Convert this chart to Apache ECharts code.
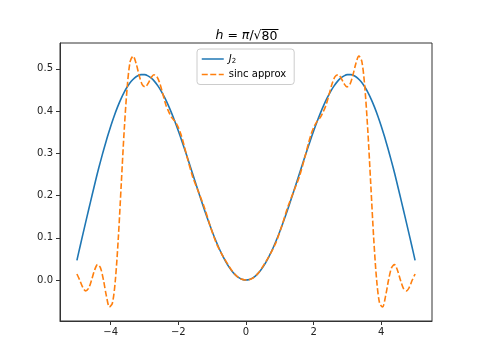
<!DOCTYPE html>
<html><head><meta charset="utf-8">
<script src="https://cdn.jsdelivr.net/npm/echarts@6/dist/echarts.min.js"></script>
<style>html,body{margin:0;padding:0;background:#fff}#c{width:480px;height:360px}</style>
</head><body><div id="c"></div>
<script>
// J2 curve samples
const jx = [-5.0,-4.9,-4.8,-4.7,-4.6,-4.5,-4.4,-4.3,-4.2,-4.1,-4.0,-3.9,-3.8,-3.7,-3.6,-3.5,-3.4,-3.3,-3.2,-3.1,-3.0,-2.9,-2.8,-2.7,-2.6,-2.5,-2.4,-2.3,-2.2,-2.1,-2.0,-1.9,-1.8,-1.7,-1.6,-1.5,-1.4,-1.3,-1.2,-1.1,-1.0,-0.9,-0.8,-0.7,-0.6,-0.5,-0.4,-0.3,-0.2,-0.1,0,
0.1,0.2,0.3,0.4,0.5,0.6,0.7,0.8,0.9,1.0,1.1,1.2,1.3,1.4,1.5,1.6,1.7,1.8,1.9,2.0,2.1,2.2,2.3,2.4,2.5,2.6,2.7,2.8,2.9,3.0,3.1,3.2,3.3,3.4,3.5,3.6,3.7,3.8,3.9,4.0,4.1,4.2,4.3,4.4,4.5,4.6,4.7,4.8,4.9,5.0];
const jy = [0.0466,0.0817,0.1163,0.1505,0.1844,0.2178,0.2509,0.2815,0.3107,0.3383,0.3641,0.3878,0.4093,0.4283,0.4448,0.4586,0.4698,0.4780,0.4835,0.4862,0.4861,0.4832,0.4777,0.4696,0.4590,0.4461,0.4310,0.4140,0.3951,0.3746,0.3528,0.3299,0.3061,0.2817,0.2570,0.2321,0.2074,0.1830,0.1593,0.1366,0.1149,0.0946,0.0758,0.0588,0.0437,0.0306,0.0197,0.0112,0.0050,0.0012,0,
0.0012,0.0050,0.0112,0.0197,0.0306,0.0437,0.0588,0.0758,0.0946,0.1149,0.1366,0.1593,0.1830,0.2074,0.2321,0.2570,0.2817,0.3061,0.3299,0.3528,0.3746,0.3951,0.4140,0.4310,0.4461,0.4590,0.4696,0.4777,0.4832,0.4861,0.4862,0.4835,0.4780,0.4698,0.4586,0.4448,0.4283,0.4093,0.3878,0.3641,0.3383,0.3107,0.2815,0.2509,0.2178,0.1844,0.1505,0.1163,0.0817,0.0466];

// sinc approximation samples
const sx = [-5.000,-4.917,-4.830,-4.742,-4.654,-4.566,-4.478,-4.390,-4.303,-4.215,-4.127,-4.039,-3.951,-3.863,-3.776,-3.688,-3.600,-3.512,-3.425,-3.337,-3.249,-3.161,-3.073,-2.985,-2.898,-2.810,-2.722,-2.634,-2.546,-2.459,-2.371,-2.283,-2.195,-2.107,-2.020,-1.932,-1.844,-1.756,-1.581,-1.405,-1.229,-1.054,-0.878,-0.702,-0.527,-0.351,-0.176,0,
0.176,0.351,0.527,0.702,0.878,1.054,1.229,1.405,1.581,1.756,1.844,1.932,2.020,2.107,2.195,2.283,2.371,2.459,2.546,2.634,2.722,2.810,2.898,2.985,3.073,3.161,3.249,3.337,3.425,3.512,3.600,3.688,3.776,3.863,3.951,4.039,4.127,4.215,4.303,4.390,4.478,4.566,4.654,4.742,4.830,4.917,5.000];
const sy = [0.0142,0,-0.0169,-0.0257,-0.0196,0,0.0233,0.0365,0.0288,0,-0.0380,-0.0636,-0.0550,0,0.0990,0.2282,0.3563,0.4573,0.5174,0.5299,0.5124,0.4850,0.4633,0.4571,0.4650,0.4783,0.4858,0.4813,0.4647,0.4401,0.4151,0.3980,0.3844,0.3761,0.3642,0.3465,0.3227,0.2954,0.2453,0.2086,0.1713,0.1266,0.0872,0.0592,0.0358,0.0153,0.0033,0,
0.0033,0.0153,0.0358,0.0592,0.0872,0.1266,0.1713,0.2086,0.2453,0.2954,0.3227,0.3465,0.3642,0.3761,0.3844,0.3980,0.4151,0.4401,0.4647,0.4813,0.4858,0.4783,0.4650,0.4571,0.4633,0.4850,0.5124,0.5299,0.5174,0.4573,0.3563,0.2282,0.0990,0,-0.0550,-0.0636,-0.0380,0,0.0288,0.0365,0.0233,0,-0.0196,-0.0257,-0.0169,0,0.0142];

const xTicks = [-4,-2,0,2,4];
const yTicks = [0.0,0.1,0.2,0.3,0.4,0.5];
const seriesNames = ['J2','sinc approx'];
const titleText = '{i|h} = {i|π}/√{o|80}';

const FF = 'DejaVu Sans';
const chart = echarts.init(document.getElementById('c'), null, {renderer:'canvas'});
const fmtMinus = v => String(v).replace('-', '\u2212');
const overbar = new echarts.graphic.LinearGradient(0,0,0,1,[
  {offset:0,color:'#000'},{offset:0.075,color:'#000'},
  {offset:0.076,color:'rgba(0,0,0,0)'},{offset:1,color:'rgba(0,0,0,0)'}]);
chart.setOption({
  animation:false,
  backgroundColor:'#fff',
  title:{
    text:titleText, left:242, top:24, textAlign:'center',
    textStyle:{fontFamily:FF,fontSize:12.5,fontWeight:'normal',color:'#000',
      rich:{i:{fontFamily:FF,fontSize:12.5,fontStyle:'italic',color:'#000'},
            o:{fontFamily:FF,fontSize:12.5,color:'#000',backgroundColor:overbar,padding:[1,1,0,0]}}}
  },
  legend:{
    left:197, top:49, orient:'vertical',
    padding:[5,8,5,4], itemGap:5, itemWidth:22, itemHeight:10,
    borderColor:'#ccc', borderWidth:1, borderRadius:3,
    backgroundColor:'rgba(255,255,255,0.8)',
    data:seriesNames,
    itemStyle:{opacity:0},
    lineStyle:{width:1.5},
    formatter: n => n==='J2' ? '{j|J}{s|2}' : n,
    textStyle:{fontFamily:FF,fontSize:10,color:'#000',
      rich:{j:{fontFamily:FF,fontSize:10,fontStyle:'italic',color:'#000'},
            s:{fontFamily:FF,fontSize:7,color:'#000',padding:[4,0,0,0]}}}
  },
  grid:{left:60,right:48,top:43,bottom:39,show:true,borderColor:'#333',borderWidth:1,backgroundColor:'transparent'},
  xAxis:{
    type:'value', min:-5.5, max:5.5,
    axisLine:{onZero:false,lineStyle:{color:'#333',width:1}},
    splitLine:{show:false},
    axisTick:{show:true,length:4,lineStyle:{color:'#333'},customValues:xTicks},
    axisLabel:{margin:6,fontFamily:FF,fontSize:10,color:'#222',customValues:xTicks,formatter:v=>fmtMinus(v)}
  },
  yAxis:{
    type:'value', min:-0.097, max:0.561,
    axisLine:{show:true,onZero:false,lineStyle:{color:'#333',width:1}},
    splitLine:{show:false},
    axisTick:{show:true,length:4,lineStyle:{color:'#333'},customValues:yTicks},
    axisLabel:{margin:7,fontFamily:FF,fontSize:10,color:'#222',customValues:yTicks,formatter:v=>v.toFixed(1)}
  },
  series:[
    {name:seriesNames[0], type:'line', data:jx.map((x,i)=>[x,jy[i]]), symbol:'none', smooth:0.3,
     lineStyle:{color:'#1f77b4',width:1.6}, itemStyle:{color:'#1f77b4'}, z:2},
    {name:seriesNames[1], type:'line', data:sx.map((x,i)=>[x,sy[i]]), symbol:'none', smooth:0.3,
     lineStyle:{color:'#ff7f0e',width:1.6,type:[6,2.5]}, itemStyle:{color:'#ff7f0e'}, z:3}
  ]
});
</script></body></html>
